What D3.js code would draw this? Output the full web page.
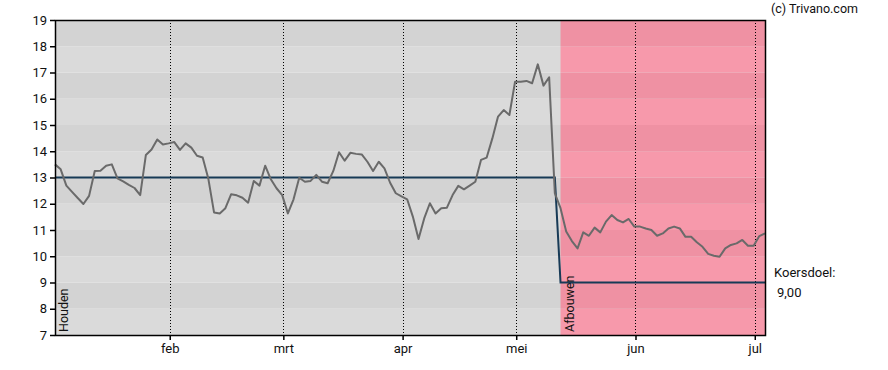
<!DOCTYPE html>
<html><head><meta charset="utf-8">
<script src="https://cdn.jsdelivr.net/npm/d3@7"></script>
<style>
body{margin:0;background:#fff;}
svg{display:block;font-family:Roboto,"Liberation Sans",Arial,sans-serif;}
</style></head>
<body><svg id="c" width="888" height="370"></svg>
<script>
// Daily closing prices (one per trading day, index 0..125)
const prices = [13.50,13.31,12.69,12.45,12.22,11.99,12.30,13.25,13.26,13.45,
13.50,12.97,12.85,12.72,12.60,12.33,13.86,14.07,14.45,14.26,
14.30,14.35,14.05,14.30,14.14,13.83,13.76,12.95,11.67,11.63,
11.83,12.36,12.32,12.23,12.04,12.87,12.69,13.45,12.93,12.59,
12.33,11.63,12.17,12.99,12.84,12.87,13.10,12.84,12.78,13.25,
13.96,13.64,13.94,13.90,13.88,13.60,13.25,13.60,13.35,12.80,
12.40,12.28,12.17,11.51,10.66,11.44,12.02,11.63,11.83,11.85,
12.33,12.68,12.55,12.69,12.84,13.67,13.76,14.49,15.32,15.57,
15.38,16.65,16.65,16.68,16.59,17.31,16.50,16.82,12.40,11.83,
10.94,10.58,10.30,10.91,10.78,11.09,10.91,11.32,11.57,11.38,
11.29,11.42,11.13,11.13,11.06,11.00,10.78,10.87,11.06,11.13,
11.06,10.74,10.74,10.53,10.36,10.09,10.02,9.98,10.30,10.43,
10.49,10.62,10.40,10.40,10.77,10.87];
// Price target (koersdoel) steps
const targetIndex = [0, 88, 89, 125];
const targetValue = [13, 13, 9, 9];
// Advice zones
const adviceLabels = ["Houden", "Afbouwen"];
const adviceStart = [0, 89];
const adviceEnd = [125, 125];
// Month ticks (trading-day index of first day of month)
const monthLabels = ["feb","mrt","apr","mei","jun","jul"];
const monthIndex = [20.2, 40.2, 61.2, 81.2, 102.2, 123.2];
const yTicks = [7,8,9,10,11,12,13,14,15,16,17,18,19];
const targetLabel = "Koersdoel:";
const targetText = "9,00";
const credit = "(c) Trivano.com";

const svg = d3.select("#c");
const L = 55, R = 766, T = 20, B = 335;
const x = d3.scaleLinear().domain([0, 125]).range([L, 765]);
const y = d3.scaleLinear().domain([7, 19]).range([B, T]);

// background bands
const bands = d3.range(7, 19);
const g = svg.append("g");
g.selectAll("rect.band").data(bands).enter().append("rect")
  .attr("x", L).attr("width", R - L)
  .attr("y", d => y(d + 1)).attr("height", d => y(d) - y(d + 1))
  .attr("fill", d => (d % 2 === 0) ? "#d3d3d3" : "#dadada");
// pink zone for second advice
const pinkX0 = x(adviceStart[1]);
g.selectAll("rect.pink").data(bands).enter().append("rect")
  .attr("x", pinkX0).attr("width", R - pinkX0)
  .attr("y", d => y(d + 1)).attr("height", d => y(d) - y(d + 1))
  .attr("fill", d => (d % 2 === 0) ? "#ef91a3" : "#f799ab");

// month gridlines
svg.append("g").selectAll("line").data(monthIndex).enter().append("line")
  .attr("x1", d => Math.round(x(d)) + 0.5).attr("x2", d => Math.round(x(d)) + 0.5)
  .attr("y1", T).attr("y2", B)
  .attr("stroke", "#000").attr("stroke-width", 1).attr("stroke-dasharray", "1,2");

// advice labels
svg.append("g").selectAll("text").data(adviceLabels).enter().append("text")
  .attr("transform", (d, i) => `translate(${x(adviceStart[i]) + 13},${B - 3}) rotate(-90)`)
  .attr("font-size", 12.5).attr("fill", "#111").text(d => d);

// target line
const tdata = targetIndex.map((d, i) => [d, targetValue[i]]);
svg.append("path").datum(tdata)
  .attr("d", d3.line().x(d => x(d[0])).y(d => y(d[1])))
  .attr("fill", "none").attr("stroke", "#173a56").attr("stroke-width", 2);

// price line
svg.append("path").datum(prices)
  .attr("d", d3.line().x((d, i) => x(i)).y(d => y(d)))
  .attr("fill", "none").attr("stroke", "#6a6a6a").attr("stroke-width", 2)
  .attr("stroke-linejoin", "round");

// frame
svg.append("rect").attr("x", L + 0.5).attr("y", T + 0.5).attr("width", R - L - 1).attr("height", B - T)
  .attr("fill", "none").attr("stroke", "#000").attr("stroke-width", 1.5);

// y axis
const yAxis = svg.append("g").attr("transform", `translate(${L},0)`)
  .call(d3.axisLeft(y).tickValues(yTicks).tickSize(5).tickFormat(d3.format("d")));
yAxis.select(".domain").remove();
yAxis.selectAll("line").attr("stroke", "#000").attr("stroke-width", 1.5);
yAxis.selectAll("text").attr("font-size", 13).attr("fill", "#111")
  .attr("font-family", "Roboto, 'Liberation Sans', Arial, sans-serif").attr("x", -8);

// x axis
const xAxis = svg.append("g").attr("transform", `translate(0,${B})`)
  .call(d3.axisBottom(x).tickValues(monthIndex).tickSize(5).tickFormat((d, i) => monthLabels[i]));
xAxis.select(".domain").remove();
xAxis.selectAll("line").attr("stroke", "#000").attr("stroke-width", 1.5);
xAxis.selectAll("text").attr("font-size", 13).attr("fill", "#111")
  .attr("font-family", "Roboto, 'Liberation Sans', Arial, sans-serif").attr("dy", "0.9em").attr("y", 6);

// target annotation
svg.append("text").attr("x", 774).attr("y", y(9) - 6).attr("font-size", 13).attr("fill", "#111").text(targetLabel);
svg.append("text").attr("x", 777).attr("y", y(9) + 14).attr("font-size", 13).attr("fill", "#111").text(targetText);
// credit
svg.append("text").attr("x", 858).attr("y", 13).attr("text-anchor", "end")
  .attr("font-size", 12.5).attr("fill", "#111").text(credit);
</script></body></html>
